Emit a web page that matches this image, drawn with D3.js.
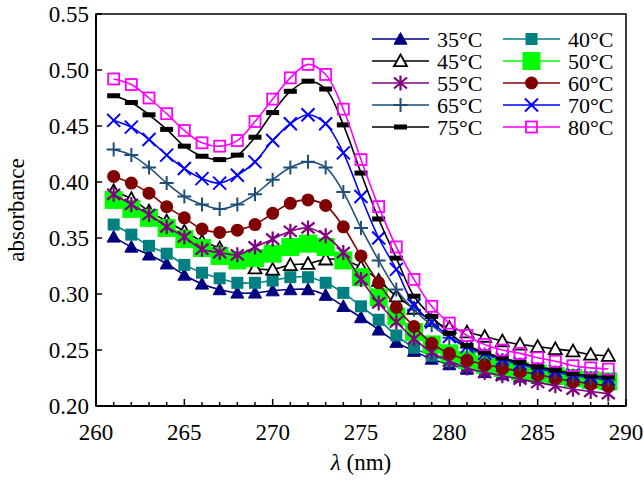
<!DOCTYPE html>
<html>
<head>
<meta charset="utf-8">
<script src="https://cdn.jsdelivr.net/npm/d3@7"></script>
<style>
  html, body { margin: 0; padding: 0; background: #fff; }
  svg { display: block; }
</style>
</head>
<body>
<svg id="chart" width="644" height="481" font-family="'Liberation Serif', 'Times New Roman', Times, serif"></svg>
<script>
const wavelengths = [261,262,263,264,265,266,267,268,269,270,271,272,273,274,275,276,277,278,279,280,281,282,283,284,285,286,287,288,289];

const t35 = [0.351,0.342,0.335,0.327,0.317,0.309,0.304,0.301,0.301,0.303,0.304,0.304,0.299,0.289,0.279,0.268,0.257,0.249,0.242,0.237,0.233,0.230,0.228,0.226,0.225,0.224,0.223,0.222,0.221];
const t40 = [0.362,0.353,0.343,0.336,0.326,0.319,0.314,0.310,0.310,0.312,0.315,0.315,0.310,0.301,0.289,0.277,0.263,0.252,0.245,0.240,0.236,0.233,0.231,0.229,0.227,0.226,0.224,0.223,0.222];
const t45 = [0.392,0.385,0.374,0.365,0.356,0.347,0.341,0.330,0.323,0.322,0.326,0.327,0.331,0.330,0.324,0.312,0.298,0.287,0.276,0.270,0.266,0.262,0.258,0.255,0.253,0.251,0.249,0.246,0.245];
const t50 = [0.384,0.376,0.368,0.359,0.349,0.341,0.334,0.330,0.332,0.336,0.342,0.345,0.342,0.330,0.315,0.297,0.280,0.266,0.255,0.247,0.241,0.237,0.234,0.231,0.229,0.227,0.225,0.223,0.222];
const t55 = [0.389,0.380,0.371,0.360,0.351,0.340,0.337,0.335,0.342,0.349,0.356,0.359,0.352,0.337,0.313,0.292,0.275,0.260,0.248,0.240,0.234,0.230,0.227,0.224,0.221,0.218,0.215,0.213,0.211];
const t60 = [0.405,0.399,0.390,0.378,0.368,0.358,0.355,0.357,0.362,0.372,0.381,0.384,0.379,0.360,0.334,0.310,0.288,0.271,0.256,0.247,0.241,0.237,0.234,0.231,0.228,0.225,0.222,0.220,0.218];
const t65 = [0.429,0.424,0.413,0.399,0.387,0.380,0.376,0.380,0.389,0.402,0.413,0.418,0.413,0.391,0.359,0.330,0.304,0.286,0.272,0.261,0.252,0.246,0.241,0.237,0.233,0.230,0.227,0.225,0.223];
const t70 = [0.455,0.449,0.438,0.424,0.412,0.403,0.399,0.406,0.418,0.437,0.452,0.460,0.452,0.426,0.387,0.350,0.322,0.290,0.275,0.262,0.253,0.247,0.242,0.238,0.234,0.231,0.228,0.226,0.224];
const t75 = [0.477,0.471,0.460,0.447,0.432,0.423,0.420,0.424,0.440,0.462,0.481,0.490,0.483,0.451,0.408,0.367,0.332,0.298,0.280,0.265,0.254,0.248,0.243,0.239,0.235,0.232,0.229,0.227,0.226];
const t80 = [0.492,0.487,0.475,0.461,0.446,0.435,0.432,0.437,0.454,0.474,0.493,0.505,0.496,0.465,0.420,0.378,0.342,0.313,0.289,0.274,0.263,0.255,0.250,0.247,0.243,0.240,0.236,0.234,0.233];

const seriesNames = ["35°C","40°C","45°C","50°C","55°C","60°C","65°C","70°C","75°C","80°C"];
const seriesValues = [t35,t40,t45,t50,t55,t60,t65,t70,t75,t80];

const xTicks = [260,265,270,275,280,285,290];
const yTicks = [0.20,0.25,0.30,0.35,0.40,0.45,0.50,0.55];

const colors = ["#000080","#008080","#000000","#00ff00","#800080","#800000","#1f4e79","#0000ff","#000000","#ff00ff"];
const markers = ["triFill","sqFill","triOpen","sqBig","aster","circle","plus","cross","dash","sqOpen"];

const svg = d3.select("#chart");
const L = 96, R = 626, T = 14, B = 406;
const x = d3.scaleLinear().domain([260,290]).range([L,R]);
const y = d3.scaleLinear().domain([0.20,0.55]).range([B,T]);

const line = d3.line().x(d => x(d[0])).y(d => y(d[1])).curve(d3.curveCatmullRom.alpha(0.5));

function drawMarker(g, type, color, cx, cy) {
  const s = 6.5;
  if (type === "triFill" || type === "triOpen") {
    g.append("path").attr("d", `M${cx},${cy-s} L${cx+s},${cy+s*0.8} L${cx-s},${cy+s*0.8}Z`)
      .attr("fill", type === "triFill" ? color : "#fff").attr("stroke", color)
      .attr("stroke-width", type === "triFill" ? 1 : 1.8);
  } else if (type === "sqFill") {
    g.append("rect").attr("x", cx-6).attr("y", cy-6).attr("width", 12).attr("height", 12).attr("fill", color);
  } else if (type === "sqBig") {
    g.append("rect").attr("x", cx-9).attr("y", cy-9).attr("width", 18).attr("height", 18).attr("fill", color);
  } else if (type === "sqOpen") {
    g.append("rect").attr("x", cx-5.5).attr("y", cy-5.5).attr("width", 11).attr("height", 11)
      .attr("fill", "none").attr("stroke", color).attr("stroke-width", 1.8);
  } else if (type === "circle") {
    g.append("circle").attr("cx", cx).attr("cy", cy).attr("r", 6.5).attr("fill", color);
  } else if (type === "plus") {
    g.append("path").attr("d", `M${cx-7},${cy}H${cx+7}M${cx},${cy-7}V${cy+7}`)
      .attr("stroke", color).attr("stroke-width", 2).attr("fill", "none");
  } else if (type === "cross") {
    g.append("path").attr("d", `M${cx-6.5},${cy-6.5}L${cx+6.5},${cy+6.5}M${cx-6.5},${cy+6.5}L${cx+6.5},${cy-6.5}`)
      .attr("stroke", color).attr("stroke-width", 2).attr("fill", "none");
  } else if (type === "aster") {
    g.append("path").attr("d", `M${cx},${cy-7.5}V${cy+7.5}M${cx-6.5},${cy-5.5}L${cx+6.5},${cy+5.5}M${cx-6.5},${cy+5.5}L${cx+6.5},${cy-5.5}`)
      .attr("stroke", color).attr("stroke-width", 2.2).attr("fill", "none");
  } else if (type === "dash") {
    g.append("rect").attr("x", cx-6.5).attr("y", cy-2.5).attr("width", 13).attr("height", 5).attr("fill", color);
  }
}

const plot = svg.append("g");
seriesValues.forEach((vals, i) => {
  const pts = wavelengths.map((w, j) => [w, vals[j]]);
  const g = plot.append("g");
  g.append("path").attr("d", line(pts)).attr("fill", "none").attr("stroke", colors[i]).attr("stroke-width", 1.6);
  pts.forEach(p => drawMarker(g, markers[i], colors[i], x(p[0]), y(p[1])));
});

// frame
svg.append("rect").attr("x", L).attr("y", T).attr("width", R-L).attr("height", B-T)
  .attr("fill", "none").attr("stroke", "#000").attr("stroke-width", 1.5);

// x axis
const xAxis = svg.append("g");
d3.range(260, 291, 1).forEach(v => {
  const major = v % 5 === 0;
  xAxis.append("line").attr("x1", x(v)).attr("x2", x(v)).attr("y1", B).attr("y2", B - (major ? 7 : 4))
    .attr("stroke", "#000").attr("stroke-width", 1.5);
});
xTicks.forEach(v => {
  xAxis.append("text").attr("x", x(v)).attr("y", B + 34).attr("text-anchor", "middle")
    .attr("font-size", 23).text(v);
});
xAxis.append("line").attr("x1", L).attr("x2", R).attr("y1", B).attr("y2", B).attr("stroke", "#000").attr("stroke-width", 2);

// y axis
const yAxis = svg.append("g");
yTicks.forEach(v => {
  yAxis.append("line").attr("x1", L).attr("x2", L + 6).attr("y1", y(v)).attr("y2", y(v)).attr("stroke", "#000").attr("stroke-width", 1.5);
  yAxis.append("text").attr("x", L - 7).attr("y", y(v) + 8).attr("text-anchor", "end")
    .attr("font-size", 23).text(v.toFixed(2));
});
yAxis.append("line").attr("x1", L).attr("x2", L).attr("y1", T).attr("y2", B).attr("stroke", "#000").attr("stroke-width", 2);

// axis titles
const xt = svg.append("text").attr("x", 361).attr("y", 470).attr("text-anchor", "middle").attr("font-size", 23);
xt.append("tspan").attr("font-style", "italic").text("λ");
xt.append("tspan").text(" (nm)");
svg.append("text").attr("transform", "translate(24,210) rotate(-90)").attr("text-anchor", "middle")
  .attr("font-size", 23).text("absorbance");

// legend
const leg = svg.append("g");
seriesNames.forEach((name, i) => {
  const col = i % 2, row = Math.floor(i / 2);
  const x0 = col === 0 ? 372 : 503;
  const cy = 39 + row * 22;
  const g = leg.append("g");
  g.append("line").attr("x1", x0).attr("x2", x0 + 57).attr("y1", cy).attr("y2", cy)
    .attr("stroke", colors[i]).attr("stroke-width", 1.6);
  drawMarker(g, markers[i], colors[i], x0 + 28.5, cy);
  g.append("text").attr("x", x0 + 65).attr("y", cy + 7.5).attr("font-size", 22).text(name);
});
</script>
</body>
</html>
